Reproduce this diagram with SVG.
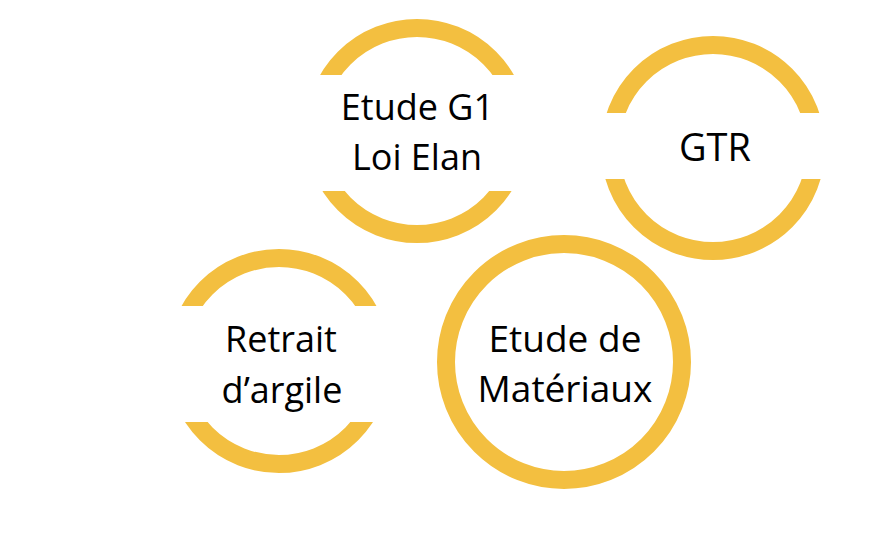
<svg xmlns="http://www.w3.org/2000/svg" width="893" height="537" viewBox="0 0 893 537">
<style>
.ring{fill:none;stroke:#F3BF40;stroke-width:18}
.band{fill:#FFFFFF}
.lbl{font-family:"Open Sans","Liberation Sans",sans-serif;font-size:36px;fill:#000000;text-anchor:middle}
</style>
<rect x="0" y="0" width="893" height="537" fill="#FFFFFF"/>
<g id="connectors"></g>
<g id="node-etude-g1">
<circle class="ring" cx="417" cy="131" r="103"/>
<rect class="band" x="300" y="75" width="235" height="116"/>
<text class="lbl" x="417.5" y="119.5">Etude G1</text>
<text class="lbl" x="417" y="170">Loi Elan</text>
</g>
<g id="node-gtr">
<circle class="ring" cx="713" cy="148" r="103"/>
<rect class="band" x="595" y="113" width="237" height="66"/>
<text class="lbl" x="715" y="160.5" style="font-size:38px">GTR</text>
</g>
<g id="node-retrait">
<circle class="ring" cx="279" cy="361" r="103"/>
<rect class="band" x="162" y="306" width="235" height="116"/>
<text class="lbl" x="281" y="351.5">Retrait</text>
<text class="lbl" x="282" y="403">d’argile</text>
</g>
<g id="node-materiaux">
<circle class="ring" cx="564" cy="362" r="118"/>
<text class="lbl" x="565" y="351.5" style="font-size:37px">Etude de</text>
<text class="lbl" x="565" y="401.5" style="font-size:37px">Matériaux</text>
</g>
</svg>
